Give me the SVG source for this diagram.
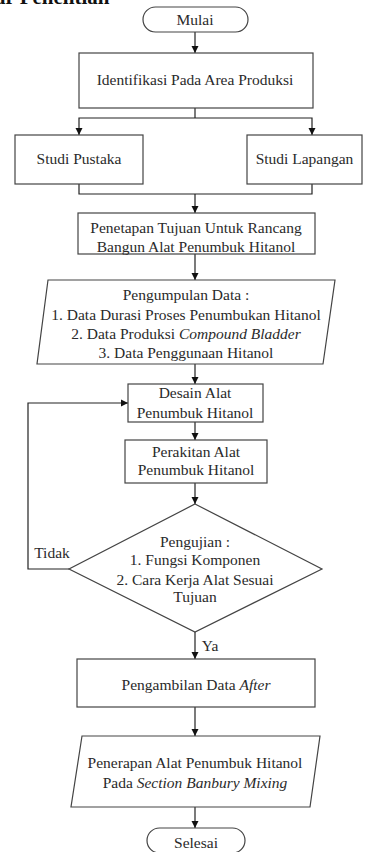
<svg xmlns="http://www.w3.org/2000/svg" width="367" height="852" viewBox="0 0 367 852" font-family="Liberation Serif, Times New Roman, serif">
<defs>
<marker id="ah" markerWidth="8" markerHeight="8" refX="7" refY="4" orient="auto" markerUnits="userSpaceOnUse">
<path d="M0,0.5 L7,4 L0,7.5 Z" fill="#111"/>
</marker>
<style>
.n{fill:#fff;stroke:#444;stroke-width:1.2}
.t{font-size:15.5px;fill:#2a2a2a;text-anchor:middle}
.l{fill:none;stroke:#222;stroke-width:1.2}
.a{fill:none;stroke:#222;stroke-width:1.2;marker-end:url(#ah)}
.i{font-style:italic}
</style>
</defs>
<rect width="367" height="852" fill="#fff"/>
<text x="-5" y="4" font-weight="bold" font-size="21" fill="#111">ar Penelitian</text>

<g id="connectors">
<line class="a" x1="195" y1="32" x2="195" y2="53"/>
<polyline class="l" points="195,108 195,118"/>
<polyline class="a" points="195,118 79,118 79,135"/>
<polyline class="a" points="195,118 312,118 312,135"/>
<polyline class="l" points="79,184 79,194 312,194 312,184"/>
<line class="a" x1="195" y1="194" x2="195" y2="213"/>
<line class="a" x1="195" y1="254" x2="195" y2="280"/>
<line class="a" x1="195" y1="364" x2="195" y2="384"/>
<line class="a" x1="195" y1="422" x2="195" y2="440"/>
<line class="a" x1="195" y1="483" x2="195" y2="504"/>
<polyline class="a" points="69,569 28,569 28,403 128,403"/>
<line class="a" x1="195" y1="632" x2="195" y2="659"/>
<line class="a" x1="195" y1="707" x2="195" y2="736"/>
<line class="a" x1="195" y1="807" x2="195" y2="828"/>
<text class="t" x="52" y="558">Tidak</text>
<text class="t" x="210" y="651">Ya</text>
</g>

<g id="mulai">
<rect class="n" x="143" y="7" width="105" height="25" rx="12.5"/>
<text class="t" x="195" y="25">Mulai</text>
</g>
<g id="identifikasi">
<rect class="n" x="79" y="53" width="234" height="55"/>
<text class="t" x="195" y="85">Identifikasi Pada Area Produksi</text>
</g>
<g id="pustaka">
<rect class="n" x="15" y="135" width="128" height="49"/>
<text class="t" x="79" y="164">Studi Pustaka</text>
</g>
<g id="lapangan">
<rect class="n" x="247" y="135" width="115" height="49"/>
<text class="t" x="304.5" y="164">Studi Lapangan</text>
</g>
<g id="penetapan">
<rect class="n" x="78" y="213" width="237" height="41"/>
<text class="t" x="196" y="233">Penetapan Tujuan Untuk Rancang</text>
<text class="t" x="196" y="252">Bangun Alat Penumbuk Hitanol</text>
</g>
<g id="pengumpulan">
<polygon class="n" points="48,280 335,280 323,364 37,364"/>
<text class="t" x="186" y="300">Pengumpulan Data :</text>
<text class="t" x="186" y="320">1. Data Durasi Proses Penumbukan Hitanol</text>
<text class="t" x="186" y="339">2. Data Produksi <tspan class="i">Compound Bladder</tspan></text>
<text class="t" x="186" y="358">3. Data Penggunaan Hitanol</text>
</g>
<g id="desain">
<rect class="n" x="128" y="384" width="135" height="38"/>
<text class="t" x="195" y="398">Desain Alat</text>
<text class="t" x="195" y="418">Penumbuk Hitanol</text>
</g>
<g id="perakitan">
<rect class="n" x="125" y="440" width="142" height="43"/>
<text class="t" x="196" y="457">Perakitan Alat</text>
<text class="t" x="196" y="475">Penumbuk Hitanol</text>
</g>
<g id="pengujian">
<polygon class="n" points="195,504 322,569 195,632 69,569"/>
<text class="t" x="195" y="547">Pengujian :</text>
<text class="t" x="195" y="565">1. Fungsi Komponen</text>
<text class="t" x="195" y="585">2. Cara Kerja Alat Sesuai</text>
<text class="t" x="195" y="602">Tujuan</text>
</g>
<g id="pengambilan">
<rect class="n" x="77" y="659" width="238" height="48"/>
<text class="t" x="196" y="690">Pengambilan Data <tspan class="i">After</tspan></text>
</g>
<g id="penerapan">
<polygon class="n" points="82,736 320,736 310,807 71,807"/>
<text class="t" x="195" y="768">Penerapan Alat Penumbuk Hitanol</text>
<text class="t" x="195" y="788">Pada <tspan class="i">Section Banbury Mixing</tspan></text>
</g>
<g id="selesai">
<rect class="n" x="147" y="828" width="98" height="25" rx="12.5"/>
<text class="t" x="196" y="848">Selesai</text>
</g>
</svg>
